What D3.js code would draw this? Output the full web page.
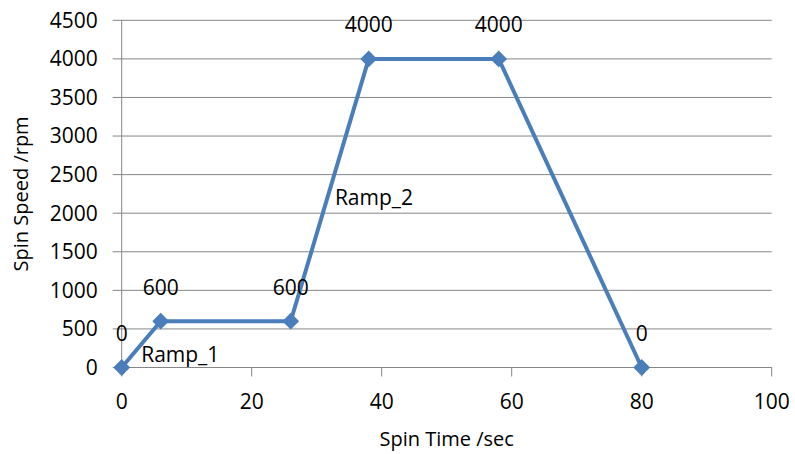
<!DOCTYPE html>
<html lang="en">
<head>
<meta charset="UTF-8">
<script src="https://d3js.org/d3.v7.min.js"></script>
<title>Spin profile</title>
<style>
  body { margin: 0; background: #fff; }
  text { font-family: "Open Sans", "DejaVu Sans", sans-serif; fill: #000; }
</style>
</head>
<body>
<script>
// data
var times = [0, 6, 26, 38, 58, 80];
var speeds = [0, 600, 600, 4000, 4000, 0];
var xTicks = [0, 20, 40, 60, 80, 100];
var yTicks = [0, 500, 1000, 1500, 2000, 2500, 3000, 3500, 4000, 4500];
var notes = ["Ramp_1", "Ramp_2"];
var noteAt = [[3, 0], [32.8, 2030]];

var w = 795, h = 454;
var pLeft = 121.7, pRight = 771.7, pTop = 20.3, pBottom = 367.5;

var svg = d3.select("body").append("svg")
    .attr("width", w).attr("height", h);

var x = d3.scaleLinear().domain([0, 100]).range([pLeft, pRight]);
var y = d3.scaleLinear().domain([0, 4500]).range([pBottom, pTop]);

var grey = "#868686";

// horizontal gridlines (extend out as the tick marks)
svg.append("g").selectAll("line").data(yTicks).enter().append("line")
    .attr("x1", pLeft - 9).attr("x2", pRight)
    .attr("y1", function(d) { return y(d); })
    .attr("y2", function(d) { return y(d); })
    .attr("stroke", grey).attr("stroke-width", 1);

// y axis line
svg.append("line")
    .attr("x1", pLeft).attr("x2", pLeft)
    .attr("y1", pTop).attr("y2", pBottom)
    .attr("stroke", grey);

// x axis + ticks
svg.append("line")
    .attr("x1", pLeft).attr("x2", pRight)
    .attr("y1", pBottom).attr("y2", pBottom)
    .attr("stroke", grey);
svg.append("g").selectAll("line").data(xTicks).enter().append("line")
    .attr("x1", function(d) { return x(d); })
    .attr("x2", function(d) { return x(d); })
    .attr("y1", pBottom).attr("y2", pBottom + 9)
    .attr("stroke", grey);

// tick labels
svg.append("g").selectAll("text").data(yTicks).enter().append("text")
    .attr("x", pLeft - 24)
    .attr("y", function(d) { return y(d); })
    .attr("dy", "0.35em")
    .attr("text-anchor", "end")
    .style("font-size", "21px")
    .text(function(d) { return d; });

svg.append("g").selectAll("text").data(xTicks).enter().append("text")
    .attr("x", function(d) { return x(d); })
    .attr("y", pBottom + 34.5)
    .attr("dy", "0.35em")
    .attr("text-anchor", "middle")
    .style("font-size", "21px")
    .text(function(d) { return d; });

// axis titles
svg.append("text")
    .attr("x", (pLeft + pRight) / 2).attr("y", 446)
    .attr("text-anchor", "middle")
    .style("font-size", "20px")
    .text("Spin Time /sec");

svg.append("text")
    .attr("transform", "translate(28," + ((pTop + pBottom) / 2) + ") rotate(-90)")
    .attr("text-anchor", "middle")
    .style("font-size", "20px")
    .text("Spin Speed /rpm");

// series
var pts = times.map(function(t, i) { return [t, speeds[i]]; });
var line = d3.line()
    .x(function(d) { return x(d[0]); })
    .y(function(d) { return y(d[1]); });

svg.append("path").datum(pts)
    .attr("d", line)
    .attr("fill", "none")
    .attr("stroke", "#4a7ebb")
    .attr("stroke-width", 4)
    .attr("stroke-linejoin", "round");

svg.append("g").selectAll("path").data(pts).enter().append("path")
    .attr("d", d3.symbol().type(d3.symbolDiamond2).size(180))
    .attr("transform", function(d) { return "translate(" + x(d[0]) + "," + y(d[1]) + ")"; })
    .attr("fill", "#4a7ebb");

// value labels above points
svg.append("g").selectAll("text").data(pts).enter().append("text")
    .attr("x", function(d) { return x(d[0]); })
    .attr("y", function(d) { return y(d[1]) - 34; })
    .attr("dy", "0.35em")
    .attr("text-anchor", "middle")
    .style("font-size", "21px")
    .text(function(d) { return d[1]; });

// ramp notes
svg.append("g").selectAll("text").data(notes).enter().append("text")
    .attr("x", function(d, i) { return x(noteAt[i][0]); })
    .attr("y", function(d, i) { return y(noteAt[i][1]) - 13; })
    .attr("dy", "0.35em")
    .style("font-size", "21px")
    .text(function(d) { return d; });
</script>
</body>
</html>
